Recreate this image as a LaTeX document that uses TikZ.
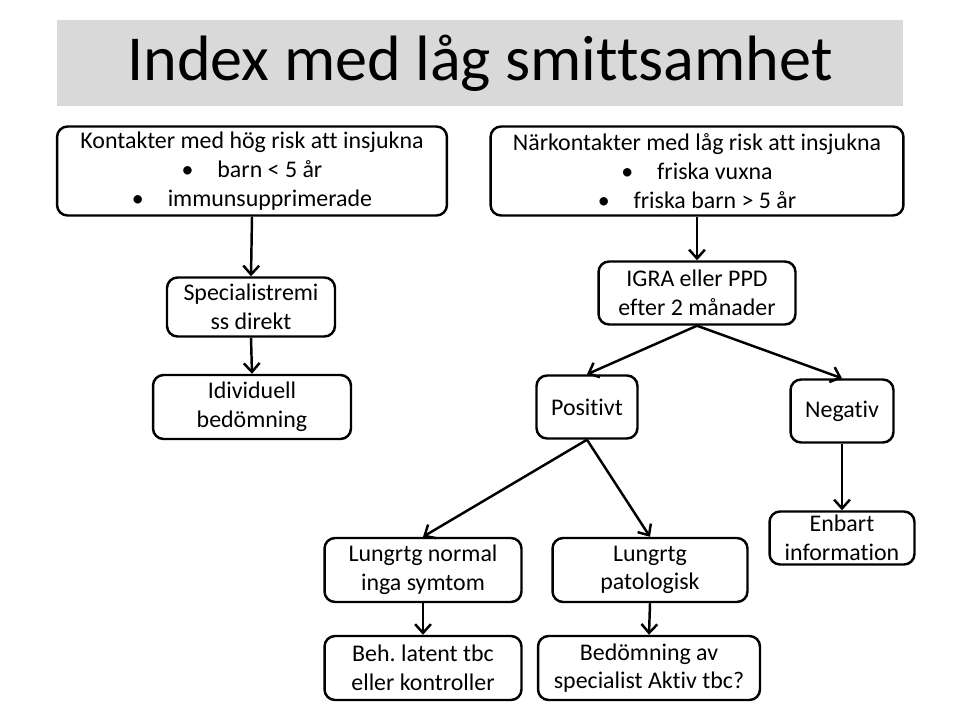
\documentclass[tikz,border=0pt]{standalone}
\usepackage{fontspec}
\setmainfont{Carlito}[Ligatures=NoCommon]
\usetikzlibrary{arrows.meta}
\frenchspacing

\begin{document}
\begin{tikzpicture}[x=0.02cm, y=-0.02cm, line width=1.4pt,
  box/.style={draw, rounded corners=6pt, align=center, inner sep=2pt,
    font=\fontsize{13.6}{16.3}\selectfont},
  arr/.style={-{Straight Barb[length=5pt,width=9pt]}}]
  \useasboundingbox (0,0) rectangle (960,720);
  % rubrik
  \node[fill=black!15, minimum width=16.92cm, minimum height=1.72cm,
    font=\fontsize{36.5}{40}\selectfont] (title) at (480,63) {Index med låg smittsamhet};
  % vänster gren
  \node[box, minimum width=7.8cm, minimum height=1.78cm] (hog) at (252,171)
    {Kontakter med hög risk att insjukna\\ \textbullet\quad barn < 5 år\\ \textbullet\quad immunsupprimerade};
  \node[box, minimum width=3.36cm, minimum height=1.18cm] (spec) at (251,307) {Specialistremi\\ss direkt};
  \node[box, minimum width=3.96cm, minimum height=1.28cm] (indiv) at (252,407) {Idividuell\\bedömning};
  % höger gren
  \node[box, minimum width=8.26cm, minimum height=1.78cm] (lag) at (697,171)
    {Närkontakter med låg risk att insjukna\\ \textbullet\quad friska vuxna\\ \textbullet\quad friska barn > 5 år};
  \node[box, minimum width=3.94cm, minimum height=1.26cm] (igra) at (697,293) {IGRA eller PPD\\efter 2 månader};
  \node[box, minimum width=2.02cm, minimum height=1.26cm] (pos) at (587,407) {Positivt};
  \node[box, minimum width=2.06cm, minimum height=1.26cm] (neg) at (842,411) {Negativ};
  \node[box, minimum width=2.9cm, minimum height=1.06cm] (info) at (842,538) {Enbart\\information};
  \node[box, minimum width=3.94cm, minimum height=1.28cm] (normal) at (423,570) {Lungrtg normal\\inga symtom};
  \node[box, minimum width=3.9cm, minimum height=1.28cm] (pato) at (650,570) {Lungrtg\\patologisk};
  \node[box, minimum width=3.94cm, minimum height=1.28cm] (latent) at (423,668) {Beh. latent tbc\\eller kontroller};
  \node[box, minimum width=4.44cm, minimum height=1.28cm] (aktiv) at (649,668) {Bedömning av\\specialist Aktiv tbc?};
  % pilar
  \draw[arr] (hog.south) -- (spec.north);
  \draw[arr] (spec.south) -- (indiv.north);
  \draw[arr] (lag.south) -- (igra.north);
  \draw[arr] (igra.south) -- (pos.north);
  \draw[arr] (igra.south) -- (neg.north);
  \draw[arr] (neg.south) -- (info.north);
  \draw[arr] (pos.south) -- (normal.north);
  \draw[arr] (pos.south) -- (pato.north);
  \draw[arr] (normal.south) -- (latent.north);
  \draw[arr] (pato.south) -- (aktiv.north);
\end{tikzpicture}
\end{document}
